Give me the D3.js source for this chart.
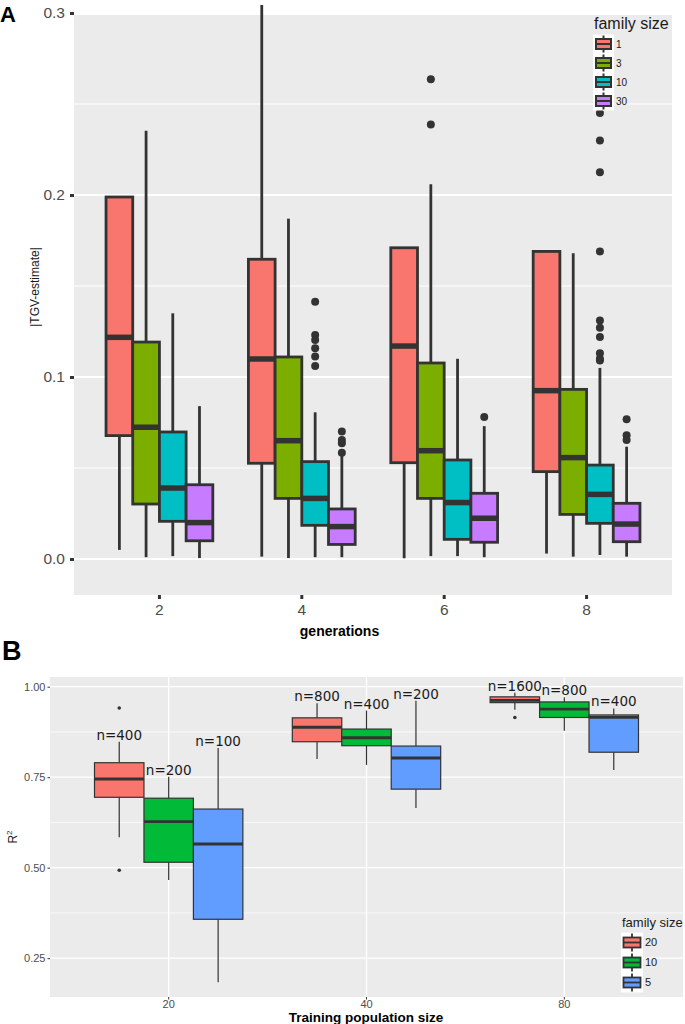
<!DOCTYPE html>
<html><head><meta charset="utf-8">
<script src="https://cdn.jsdelivr.net/npm/d3@7"></script>
<style>body{margin:0;background:#fff}svg{display:block}</style>
</head><body>
<svg id="chart" width="685" height="1024"></svg>
<script>
// ---------- Panel A data ----------
const genCats = ["2","4","6","8"];
const famA = ["1","3","10","30"];
const colorsA = ["#F8766D","#7CAE00","#00BFC4","#C77CFF"];
const yTicksA = [0.0,0.1,0.2,0.3];
// [low whisker, Q1, median, Q3, high whisker] per generation
const boxA_f1  = [[0.005,0.0678,0.1218,0.1989,0.1989],[0.0013,0.0526,0.1099,0.1647,0.3044],[0.0004,0.0529,0.117,0.171,0.171],[0.003,0.048,0.0925,0.169,0.169]];
const boxA_f3  = [[0.001,0.0302,0.0724,0.1192,0.2353],[0.0005,0.0333,0.065,0.111,0.187],[0.0016,0.0333,0.0595,0.1077,0.2059],[0.0013,0.0245,0.0557,0.0932,0.168]];
const boxA_f10 = [[0.0016,0.0207,0.039,0.0698,0.135],[0.001,0.0185,0.0333,0.0535,0.0806],[0.0016,0.0108,0.031,0.0544,0.110],[0.0022,0.0196,0.0355,0.0516,0.105]];
const boxA_f30 = [[0.0005,0.010,0.020,0.0408,0.084],[0.001,0.008,0.0178,0.0275,0.057],[0.001,0.0092,0.0224,0.0361,0.073],[0.0013,0.0095,0.0192,0.0306,0.0617]];
const outA_f1  = [[],[],[],[]];
const outA_f3  = [[],[],[0.2636,0.2388],[]];
const outA_f10 = [[],[0.1414,0.1231,0.1203,0.1158,0.1112,0.106],[],[0.245,0.230,0.2125,0.169,0.131,0.127,0.122,0.113,0.110,0.109]];
const outA_f30 = [[],[0.070,0.0654,0.0636,0.0584],[0.078],[0.0768,0.068,0.0654]];

// ---------- Panel B data ----------
const sizeCats = ["20","40","80"];
const famB = ["20","10","5"];
const colorsB = ["#F8766D","#00BA38","#619CFF"];
const yTicksB = [0.25,0.50,0.75,1.00];
const boxB_f20 = [[0.584,0.6945,0.745,0.790,0.848],[0.800,0.848,0.888,0.914,0.954],[0.936,0.956,0.962,0.972,0.983]];
const boxB_f10 = [[0.466,0.515,0.627,0.692,0.751],[0.784,0.837,0.859,0.883,0.934],[0.878,0.915,0.938,0.958,0.971]];
const boxB_f5  = [[0.1835,0.3575,0.5655,0.662,0.831],[0.665,0.717,0.803,0.836,0.961],[0.770,0.819,0.915,0.922,0.940]];
const outB_f20 = [[0.941,0.493],[],[0.915]];
const outB_f10 = [[],[],[]];
const outB_f5  = [[],[],[]];
const nLab_f20 = ["n=400","n=800","n=1600"];
const nLab_f10 = ["n=200","n=400","n=800"];
const nLab_f5  = ["n=100","n=200","n=400"];

const svg = d3.select("#chart");
const SANS = "'Liberation Sans', Arial, sans-serif";
const DJV = "'DejaVu Sans', sans-serif";

function buildRows(cats, fams, boxes, outs, labs){
  const rows=[];
  cats.forEach((c,i)=>fams.forEach((f,j)=>{
    const b=boxes[j][i];
    rows.push({cat:c,fam:f,fi:j,low:b[0],q1:b[1],med:b[2],q3:b[3],high:b[4],out:outs[j][i],lab:labs?labs[j][i]:null});
  }));
  return rows;
}

function drawPanel(o){
  const g = svg.append("g");
  const x = d3.scaleBand().domain(o.cats).range([o.left,o.right]).paddingInner(0).paddingOuter(0.1);
  const y = d3.scaleLinear().domain(o.ydom).range([o.bottom,o.top]);
  const step = x.step();
  const xf = d3.scaleBand().domain(o.fams).range([-0.375*step,0.375*step]).padding(0);
  g.append("rect").attr("x",o.left).attr("y",o.top).attr("width",o.right-o.left).attr("height",o.bottom-o.top).attr("fill","#EBEBEB");
  o.minor.forEach(v=>g.append("line").attr("x1",o.left).attr("x2",o.right).attr("y1",y(v)).attr("y2",y(v)).attr("stroke","#fff").attr("stroke-width",o.minorW));
  o.yticks.forEach(v=>g.append("line").attr("x1",o.left).attr("x2",o.right).attr("y1",y(v)).attr("y2",y(v)).attr("stroke","#fff").attr("stroke-width",o.majorW));
  if(o.vgrid){
    o.cats.forEach(c=>{const cx=x(c)+x.bandwidth()/2;
      g.append("line").attr("x1",cx).attr("x2",cx).attr("y1",o.top).attr("y2",o.bottom).attr("stroke","#fff").attr("stroke-width",o.majorW);});
  }
  const ya = d3.axisLeft(y).tickValues(o.yticks).tickFormat(o.yfmt).tickSize(o.tickLen).tickPadding(o.tickPad);
  const gy = g.append("g").attr("transform",`translate(${o.left},0)`).call(ya);
  gy.select(".domain").remove();
  gy.selectAll("line").attr("stroke","#333").attr("stroke-width",o.tickW);
  gy.selectAll("text").attr("fill","#4D4D4D").attr("font-size",o.tickFont).attr("font-family",SANS);
  const xa = d3.axisBottom(x).tickSize(o.tickLen).tickPadding(o.tickPadX);
  const gx = g.append("g").attr("transform",`translate(0,${o.bottom})`).call(xa);
  gx.select(".domain").remove();
  gx.selectAll("line").attr("stroke","#333").attr("stroke-width",o.tickW);
  gx.selectAll("text").attr("fill","#4D4D4D").attr("font-size",o.tickFont).attr("font-family",SANS);

  const rows = o.rows;
  const cxOf = d=>x(d.cat)+x.bandwidth()/2+xf(d.fam)+xf.bandwidth()/2;
  const bw = xf.bandwidth();
  const bg = g.selectAll(".bx").data(rows).join("g");
  bg.append("line").attr("x1",cxOf).attr("x2",cxOf).attr("y1",d=>y(d.q3)).attr("y2",d=>y(d.high)).attr("stroke","#333").attr("stroke-width",o.lw);
  bg.append("line").attr("x1",cxOf).attr("x2",cxOf).attr("y1",d=>y(d.q1)).attr("y2",d=>y(d.low)).attr("stroke","#333").attr("stroke-width",o.lw);
  bg.append("rect").attr("x",d=>cxOf(d)-bw/2).attr("width",bw).attr("y",d=>y(d.q3)).attr("height",d=>y(d.q1)-y(d.q3))
    .attr("fill",d=>o.colors[d.fi]).attr("stroke","#333").attr("stroke-width",o.lw);
  bg.append("line").attr("x1",d=>cxOf(d)-bw/2).attr("x2",d=>cxOf(d)+bw/2).attr("y1",d=>y(d.med)).attr("y2",d=>y(d.med)).attr("stroke","#333").attr("stroke-width",o.medW);
  bg.each(function(d){
    d3.select(this).selectAll("circle").data(d.out).join("circle").attr("cx",cxOf(d)).attr("cy",v=>y(v)).attr("r",o.pr).attr("fill","#333");
  });
  if(o.labels){
    bg.append("text").attr("x",cxOf).attr("y",d=>y(d.high)-2).attr("text-anchor","middle").attr("font-family",DJV).attr("font-size",13.5).attr("fill","#1a1a1a").text(d=>d.lab);
  }
  return {x,y};
}

// Panel A
drawPanel({cats:genCats,fams:famA,colors:colorsA,left:74,right:672,top:15,bottom:595,ydom:[-0.01978,0.2989],
  yticks:yTicksA,minor:[0.05,0.15,0.25],yfmt:d3.format(".1f"),majorW:2,minorW:1,vgrid:false,
  tickLen:4,tickW:3,tickPad:5,tickPadX:5,tickFont:15.5,lw:2.8,medW:5.5,pr:4,
  rows:buildRows(genCats,famA,[boxA_f1,boxA_f3,boxA_f10,boxA_f30],[outA_f1,outA_f3,outA_f10,outA_f30])});

// Panel B
drawPanel({cats:sizeCats,fams:famB,colors:colorsB,left:50,right:683,top:677,bottom:997,ydom:[0.1428,1.0268],
  yticks:yTicksB,minor:[0.375,0.625,0.875],yfmt:d3.format(".2f"),majorW:1.3,minorW:0.7,vgrid:true,
  tickLen:2.5,tickW:1,tickPad:2,tickPadX:1,tickFont:11,lw:1.2,medW:2.8,pr:1.8,labels:true,
  rows:buildRows(sizeCats,famB,[boxB_f20,boxB_f10,boxB_f5],[outB_f20,outB_f10,outB_f5],[nLab_f20,nLab_f10,nLab_f5])});

// Titles / labels
svg.append("text").attr("x",0).attr("y",22).attr("font-family",SANS).attr("font-weight","bold").attr("font-size",22).text("A");
svg.append("text").attr("x",2).attr("y",660).attr("font-family",SANS).attr("font-weight","bold").attr("font-size",27).text("B");
svg.append("text").attr("transform","translate(39,287) rotate(-90)").attr("text-anchor","middle").attr("font-family",SANS).attr("font-size",12).attr("fill","#1a1a1a").text("|TGV-estimate|");
svg.append("text").attr("x",339.5).attr("y",636).attr("text-anchor","middle").attr("font-family",SANS).attr("font-weight","bold").attr("font-size",14).text("generations");
const rt = svg.append("text").attr("transform","translate(17,837) rotate(-90)").attr("text-anchor","middle").attr("font-family",SANS).attr("font-size",12).attr("fill","#1a1a1a");
rt.append("tspan").text("R");
rt.append("tspan").attr("dy",-5).attr("font-size",8).text("2");
svg.append("text").attr("x",366).attr("y",1022).attr("text-anchor","middle").attr("font-family",SANS).attr("font-weight","bold").attr("font-size",13.5).text("Training population size");

// Legends
function legend(o){
  const g = svg.append("g");
  g.append("text").attr("x",o.tx).attr("y",o.ty).attr("font-family",SANS).attr("font-size",o.tfont).attr("fill","#1a1a1a").text("family size");
  g.append("rect").attr("x",o.kx).attr("y",o.ky).attr("width",o.kw).attr("height",o.kh*o.labels.length).attr("fill","#fff");
  o.labels.forEach((l,i)=>{
    const cy = o.ky + o.kh*(i+0.5), cx = o.kx+o.kw/2;
    g.append("line").attr("x1",cx).attr("x2",cx).attr("y1",cy-o.kh/2+1).attr("y2",cy+o.kh/2-1).attr("stroke","#333").attr("stroke-width",o.lw);
    g.append("rect").attr("x",cx-o.bw/2).attr("y",cy-o.bh/2).attr("width",o.bw).attr("height",o.bh).attr("fill",o.colors[i]).attr("stroke","#333").attr("stroke-width",o.lw);
    g.append("line").attr("x1",cx-o.bw/2).attr("x2",cx+o.bw/2).attr("y1",cy).attr("y2",cy).attr("stroke","#333").attr("stroke-width",o.lw);
    g.append("text").attr("x",o.kx+o.kw+2).attr("y",cy+o.lfont*0.36).attr("font-family",SANS).attr("font-size",o.lfont).attr("fill","#1a1a1a").text(l);
  });
}
legend({labels:famA,colors:colorsA,tx:594,ty:29,tfont:16,kx:593,ky:34.5,kw:21,kh:19,bw:15,bh:10,lw:2,lfont:10});
legend({labels:famB,colors:colorsB,tx:622,ty:927,tfont:13,kx:621,ky:932.5,kw:22,kh:20,bw:17,bh:10,lw:1.8,lfont:11});
</script>
</body></html>
